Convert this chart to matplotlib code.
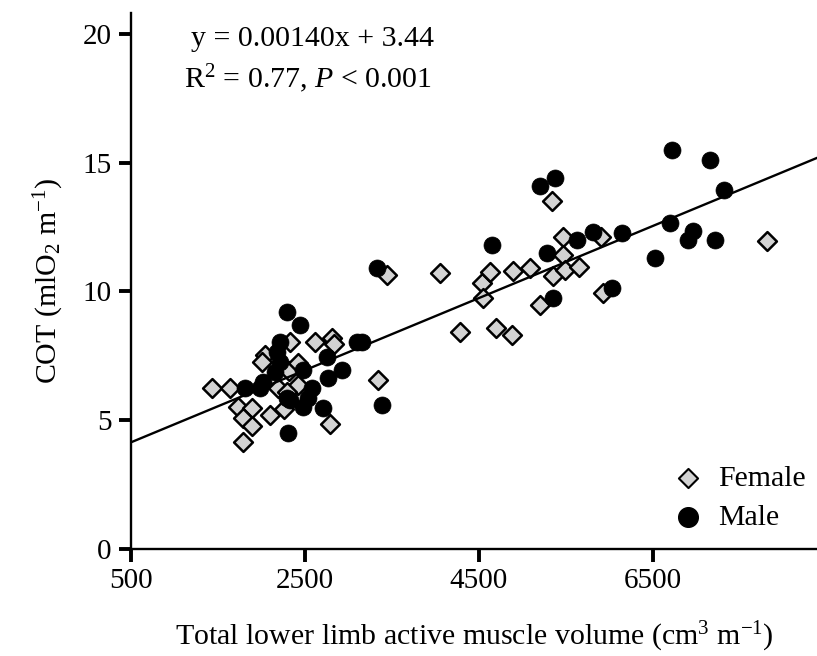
import numpy as np
import matplotlib.pyplot as plt

plt.rcParams['font.family'] = ['Liberation Serif', 'DejaVu Serif']
plt.rcParams['mathtext.fontset'] = 'custom'
plt.rcParams['mathtext.rm'] = 'Liberation Serif'
plt.rcParams['mathtext.it'] = 'Liberation Serif:italic'

# female (diamonds)
fem_x = [1430, 1640, 1730, 1890, 1790, 1890, 1790, 2100, 2260, 2190,
         2040, 2010, 2330, 2320, 2420, 2290, 2615, 2810, 2830, 2420,
         2790, 3340, 3440, 4050, 4280, 4530, 4550, 4630, 4700, 4880,
         4890, 5090, 5200, 5340, 5350, 5465, 5465, 5490, 5650, 5900,
         5925, 7810]
fem_y = [6.25, 6.25, 5.50, 5.47, 5.08, 4.77, 4.15, 5.19, 5.43, 6.24,
         7.52, 7.25, 8.02, 6.90, 6.36, 6.09, 8.02, 8.20, 7.95, 7.21,
         4.85, 6.55, 10.62, 10.70, 8.41, 10.31, 9.73, 10.74, 8.57, 8.29,
         10.78, 10.89, 9.46, 13.49, 10.58, 12.09, 11.40, 10.81, 10.93, 12.09,
         9.92, 11.94]

# male (circles)
male_x = [2290, 2440, 2210, 2180, 2210, 2020, 1810, 1980, 2155, 2330,
          2305, 3100, 3155, 2750, 2925, 2765, 2480, 2580, 2290, 2535,
          2480, 2710, 3385, 3330, 4650, 5200, 5370, 5280, 5350, 5625,
          5810, 6030, 6145, 6720, 7155, 7315, 6695, 6525, 6960, 6900,
          7215]
male_y = [9.19, 8.68, 8.02, 7.64, 7.25, 6.47, 6.24, 6.24, 6.86, 5.78,
          4.50, 8.02, 8.02, 7.44, 6.94, 6.63, 6.94, 6.24, 5.85, 5.85,
          5.50, 5.47, 5.58, 10.89, 11.78, 14.07, 14.38, 11.47, 9.73, 11.98,
          12.29, 10.12, 12.25, 15.47, 15.08, 13.95, 12.64, 11.28, 12.36, 11.98,
          11.98]

slope = 0.00140
intercept = 3.44
x_ticks = [500, 2500, 4500, 6500]
y_ticks = [0, 5, 10, 15, 20]

fig = plt.figure(figsize=(8.17, 6.56), dpi=100)
ax = fig.add_axes([0.1603, 0.1631, 0.8397, 0.817])

xmin, xmax = 500, 8385
lx = np.array([xmin, xmax])
ax.plot(lx, slope * lx + intercept, color='black', lw=1.7, zorder=3)

ax.scatter(fem_x, fem_y, marker='D', s=92, facecolor='#d3d3d3',
           edgecolor='black', linewidth=1.8, zorder=2)
ax.scatter(male_x, male_y, marker='o', s=150, facecolor='black',
           edgecolor='black', linewidth=0.5, zorder=4)

ax.set_xlim(xmin, xmax)
ax.set_ylim(0, 20.8)
ax.set_xticks(x_ticks)
ax.set_yticks(y_ticks)
ax.spines['top'].set_visible(False)
ax.spines['right'].set_visible(False)
for s in ['left', 'bottom']:
    ax.spines[s].set_linewidth(1.7)
ax.tick_params(axis='both', direction='out', length=9, width=2.8,
               labelsize=21, pad=5)

ax.set_xlabel('Total lower limb active muscle volume (cm$^3$ m$^{-1}$)',
              fontsize=21.5, labelpad=18)
ax.set_ylabel('COT (mlO$_2$ m$^{-1}$)', fontsize=21.5, labelpad=12)

ax.text(0.088, 0.952, 'y = 0.00140x + 3.44', transform=ax.transAxes,
        fontsize=21.5, va='center', ha='left')
ax.text(0.078, 0.878, 'R$^2$ = 0.77, $P$ < 0.001', transform=ax.transAxes,
        fontsize=21.5, va='center', ha='left')

hf = ax.scatter([], [], marker='D', s=95, facecolor='#d3d3d3',
                edgecolor='black', linewidth=1.5)
hm = ax.scatter([], [], marker='o', s=200, facecolor='black')
ax.legend([hf, hm], ['Female', 'Male'], loc='lower right', frameon=False,
          fontsize=21.5, handletextpad=0.0, labelspacing=0.4,
          borderaxespad=0.2, bbox_to_anchor=(1.01, 0.0))

fig.savefig('out.png', dpi=100)
